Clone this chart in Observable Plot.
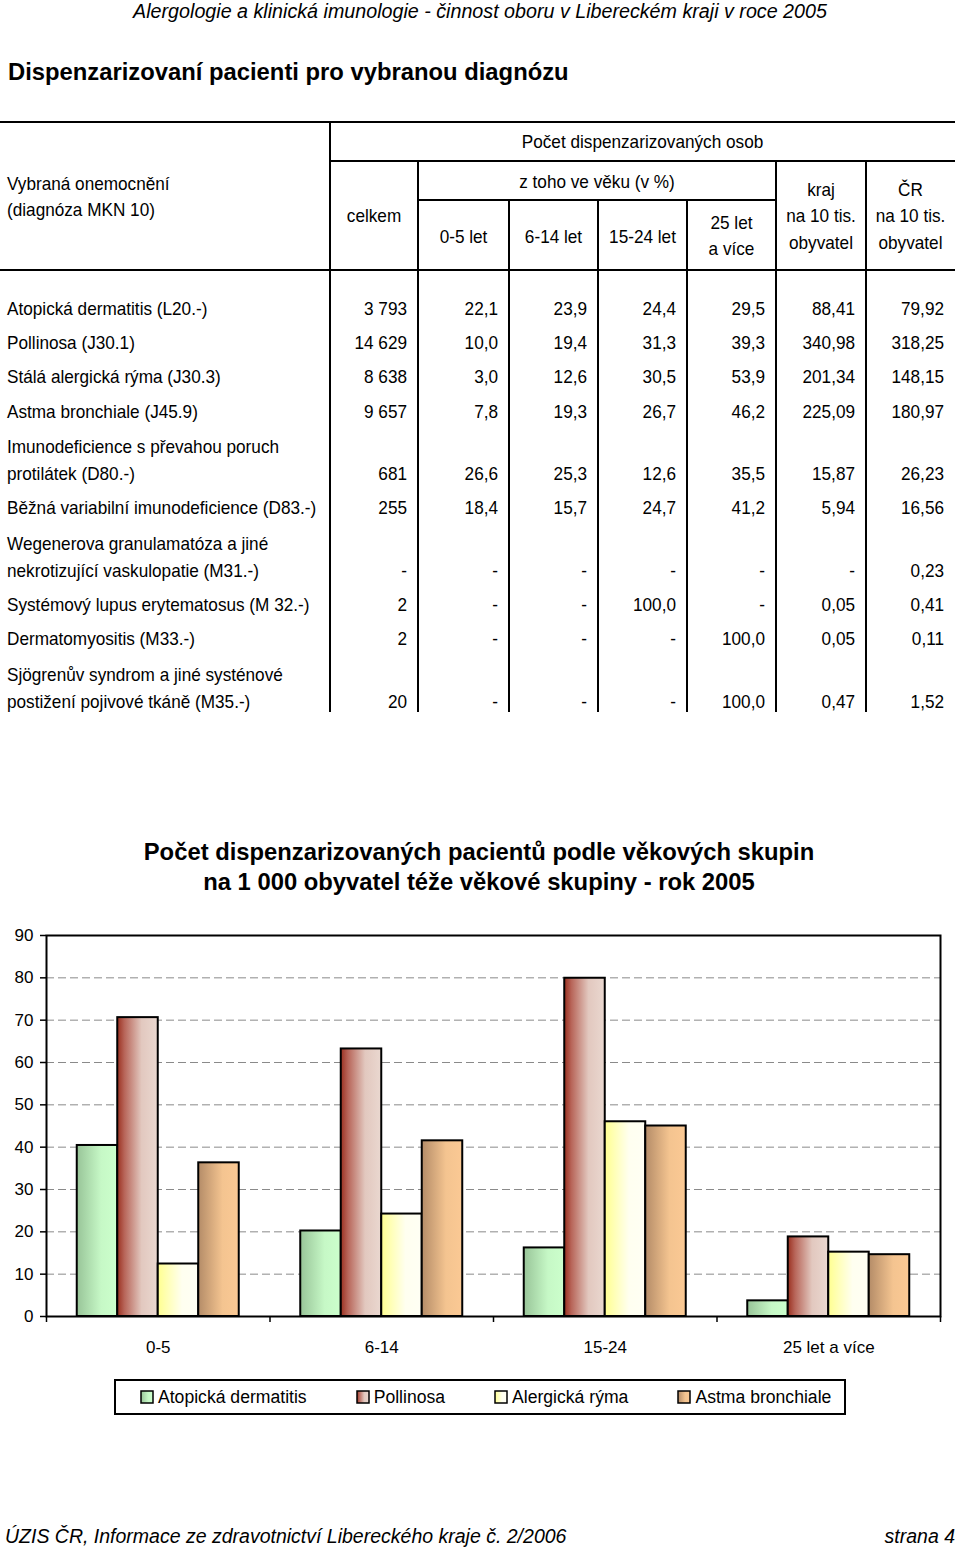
<!DOCTYPE html>
<html><head><meta charset="utf-8">
<script src="https://cdn.jsdelivr.net/npm/d3@7"></script>
<script src="https://cdn.jsdelivr.net/npm/@observablehq/plot@0.6"></script>
<style>
body{margin:0;background:#fff;}
#page{position:relative;width:960px;height:1550px;font-family:"Liberation Sans Narrow","Arial Narrow","Liberation Sans",sans-serif;color:#000;overflow:hidden}
.abs{position:absolute;white-space:nowrap;line-height:1}
</style></head><body><div id="page"></div>
<script>
// ---------- texts ----------
const pageHeader = "Alergologie a klinická imunologie - činnost oboru v Libereckém kraji v roce 2005";
const tableTitle = "Dispenzarizovaní pacienti pro vybranou diagnózu";
const chartTitle = ["Počet dispenzarizovaných pacientů podle věkových skupin", "na 1 000 obyvatel téže věkové skupiny - rok 2005"];
const footerLeft = "ÚZIS ČR, Informace ze zdravotnictví Libereckého kraje č. 2/2006";
const footerRight = "strana 4";

// ---------- table data ----------
const diagnoses = [
  ["Atopická dermatitis (L20.-)"],
  ["Pollinosa (J30.1)"],
  ["Stálá alergická rýma (J30.3)"],
  ["Astma bronchiale (J45.9)"],
  ["Imunodeficience s převahou poruch", "protilátek (D80.-)"],
  ["Běžná variabilní imunodeficience (D83.-)"],
  ["Wegenerova granulamatóza a jiné", "nekrotizující vaskulopatie (M31.-)"],
  ["Systémový lupus erytematosus (M 32.-)"],
  ["Dermatomyositis (M33.-)"],
  ["Sjögrenův syndrom a jiné systénové", "postižení pojivové tkáně (M35.-)"]
];
const colCelkem = ["3 793", "14 629", "8 638", "9 657", "681", "255", "-", "2", "2", "20"];
const col0_5    = ["22,1", "10,0", "3,0", "7,8", "26,6", "18,4", "-", "-", "-", "-"];
const col6_14   = ["23,9", "19,4", "12,6", "19,3", "25,3", "15,7", "-", "-", "-", "-"];
const col15_24  = ["24,4", "31,3", "30,5", "26,7", "12,6", "24,7", "-", "100,0", "-", "-"];
const col25     = ["29,5", "39,3", "53,9", "46,2", "35,5", "41,2", "-", "-", "100,0", "100,0"];
const colKraj   = ["88,41", "340,98", "201,34", "225,09", "15,87", "5,94", "-", "0,05", "0,05", "0,47"];
const colCR     = ["79,92", "318,25", "148,15", "180,97", "26,23", "16,56", "0,23", "0,41", "0,11", "1,52"];

const headFirst = ["Vybraná onemocnění", "(diagnóza MKN 10)"];
const headTop = "Počet dispenzarizovaných osob";
const headAge = "z toho ve věku (v %)";
const headCols = [["celkem"], ["0-5 let"], ["6-14 let"], ["15-24 let"], ["25 let", "a více"], ["kraj", "na 10 tis.", "obyvatel"], ["ČR", "na 10 tis.", "obyvatel"]];

// ---------- chart data ----------
const ageGroups = ["0-5", "6-14", "15-24", "25 let a více"];
const seriesNames = ["Atopická dermatitis", "Pollinosa", "Alergická rýma", "Astma bronchiale"];
const atopicka = [40.4, 20.2, 16.2, 3.7];
const pollinosa = [70.6, 63.2, 79.9, 18.8];
const ryma = [12.4, 24.2, 46.0, 15.2];
const astma = [36.3, 41.5, 45.0, 14.6];
const yTicks = [0, 10, 20, 30, 40, 50, 60, 70, 80, 90];

// ---------- styles ----------
const gradients = [
  [["0", "#98c498"], ["0.6", "#c6f8c6"], ["1", "#ccffcc"]],
  [["0", "#9a3020"], ["0.18", "#b8665a"], ["0.6", "#e2c8bf"], ["1", "#ead8d0"]],
  [["0", "#ffff90"], ["0.6", "#fffff0"], ["1", "#fffff4"]],
  [["0", "#b48c68"], ["0.6", "#f4c490"], ["1", "#fbc994"]]
];
const FONT = "'Liberation Sans Narrow','Arial Narrow','Liberation Sans',sans-serif";
const SQUEEZE = 0.955;

const page = document.getElementById("page");
function addText(txt, css) {
  const d = document.createElement("div");
  d.className = "abs";
  d.textContent = txt;
  Object.assign(d.style, css);
  page.appendChild(d);
  return d;
}

addText(pageHeader, {left: "0", width: "960px", textAlign: "center", top: "2px", fontSize: "19.7px", fontStyle: "italic"});
addText(tableTitle, {left: "8px", top: "60px", fontSize: "23.8px", fontWeight: "bold"});

// ---------- table (SVG) ----------
const edges = [0, 330, 418, 509, 598, 687, 776, 866, 955];
const NS = "http://www.w3.org/2000/svg";
const tsvg = d3.select(page).append("svg").attr("width", 960).attr("height", 720)
  .style("position", "absolute").style("left", "0").style("top", "0")
  .style("font-family", FONT).style("font-size", "18px");
const yTop = 122, yR1 = 161, yR2 = 200, yHead = 270, yEnd = 712;
const lines = [
  [0, yTop, 955, yTop], [330, yR1, 955, yR1], [418, yR2, 776, yR2], [0, yHead, 955, yHead],
  [330, yTop, 330, yEnd], [418, yR1, 418, yEnd], [509, yR2, 509, yEnd], [598, yR2, 598, yEnd],
  [687, yR2, 687, yEnd], [776, yR1, 776, yEnd], [866, yR1, 866, yEnd]
];
tsvg.selectAll("line").data(lines).join("line")
  .attr("x1", d => d[0]).attr("y1", d => d[1]).attr("x2", d => d[2]).attr("y2", d => d[3])
  .attr("stroke", "#000").attr("stroke-width", 2);
function tText(str, x, yc, anchor) {
  tsvg.append("text").attr("transform", `translate(${x},${yc + 6.5}) scale(${SQUEEZE},1)`)
    .attr("text-anchor", anchor).text(str);
}
tText(headFirst[0], 7, 183, "start");
tText(headFirst[1], 7, 209, "start");
tText(headTop, (330 + 955) / 2, 141, "middle");
tText(headAge, (418 + 776) / 2, 181, "middle");
const headYs = {1: [236], 2: [222, 248], 3: [189, 215, 242]};
headCols.forEach((lns, i) => {
  const cx = (edges[i + 1] + edges[i + 2]) / 2;
  const ys = i === 0 ? [215] : headYs[lns.length];
  lns.forEach((s, j) => tText(s, cx, ys[j], "middle"));
});
const cols = [colCelkem, col0_5, col6_14, col15_24, col25, colKraj, colCR];
let yc = 308 - 34.4;
diagnoses.forEach((lns, r) => {
  yc += 34.4 + (lns.length - 1) * 27.8;
  lns.forEach((s, j) => tText(s, 7, yc - (lns.length - 1 - j) * 27, "start"));
  cols.forEach((c, k) => tText(c[r], edges[k + 2] - 11, yc, "end"));
});

// ---------- chart ----------
chartTitle.forEach((t, i) => addText(t, {left: "0", width: "958px", textAlign: "center", top: (840 + i * 30) + "px", fontSize: "23.8px", fontWeight: "bold"}));

const seriesValues = [atopicka, pollinosa, ryma, astma];
const barRows = [];
seriesValues.forEach((vals, s) => vals.forEach((v, g) => barRows.push({g, s, v})));
const barW = 0.1812, outer = (1 - 4 * barW) / 2;

const defs = () => {
  const d = d3.create("svg:defs");
  gradients.forEach((stops, i) => {
    const lg = d.append("linearGradient").attr("id", "grad" + i).attr("x1", "0").attr("x2", "1").attr("y1", "0").attr("y2", "0");
    stops.forEach(([o, c]) => lg.append("stop").attr("offset", o).attr("stop-color", c));
  });
  return d.node();
};

const chart = Plot.plot({
  width: 960, height: 450,
  marginTop: 20, marginBottom: 49, marginLeft: 46, marginRight: 20,
  style: {fontFamily: FONT, fontSize: "17px", color: "#000", background: "#fff"},
  x: {domain: [0, ageGroups.length], axis: null},
  y: {domain: [0, 90], axis: null},
  marks: [
    defs,
    Plot.ruleY(yTicks.filter(t => t > 0 && t < 90), {stroke: "#8a8a8a", strokeDasharray: "8,4", strokeWidth: 1}),
    ...seriesNames.map((name, s) => Plot.rectY(barRows.filter(d => d.s === s), {
      x1: d => d.g + outer + d.s * barW, x2: d => d.g + outer + (d.s + 1) * barW, y1: 0, y2: "v",
      fill: `url(#grad${s})`, stroke: "#000", strokeWidth: 2
    })),
    Plot.frame({stroke: "#000", strokeWidth: 2}),
    Plot.axisY(yTicks, {tickSize: 6, tickPadding: 7, strokeWidth: 1.5, label: null}),
    Plot.axisX(d3.range(ageGroups.length + 1), {tickSize: 6, tickFormat: () => "", strokeWidth: 1.5, label: null}),
    Plot.axisX(ageGroups.map((_, i) => i + 0.5), {tickSize: 0, tickPadding: 24, tickFormat: v => ageGroups[Math.floor(v)], label: null})
  ]
});
chart.style.position = "absolute";
chart.style.left = "0";
chart.style.top = "915px";
page.appendChild(chart);

// ---------- legend ----------
const leg = document.createElement("div");
Object.assign(leg.style, {position: "absolute", left: "114px", top: "1379px", width: "704px", height: "32px", border: "2px solid #000",
  display: "flex", alignItems: "center", gap: "49px", paddingLeft: "24px", boxSizing: "content-box", fontSize: "17.6px"});
seriesNames.forEach((name, i) => {
  const item = document.createElement("div");
  item.style.display = "flex"; item.style.alignItems = "center"; item.style.whiteSpace = "nowrap";
  const sw = document.createElementNS(NS, "svg");
  sw.setAttribute("width", 14); sw.setAttribute("height", 14);
  sw.style.marginRight = "4px";
  const stops = gradients[i].map(([o, c]) => `<stop offset="${o}" stop-color="${c}"/>`).join("");
  sw.innerHTML = `<defs><linearGradient id="lg${i}" x1="0" x2="1">${stops}</linearGradient></defs><rect x="1" y="1" width="12" height="12" fill="url(#lg${i})" stroke="#000" stroke-width="1.5"/>`;
  item.appendChild(sw);
  const t = document.createElement("span"); t.textContent = name;
  item.appendChild(t);
  leg.appendChild(item);
});
page.appendChild(leg);

// ---------- footer ----------
addText(footerLeft, {left: "5px", top: "1527px", fontSize: "19.5px", fontStyle: "italic"});
addText(footerRight, {right: "5px", top: "1527px", fontSize: "19.5px", fontStyle: "italic"});
</script></body></html>
